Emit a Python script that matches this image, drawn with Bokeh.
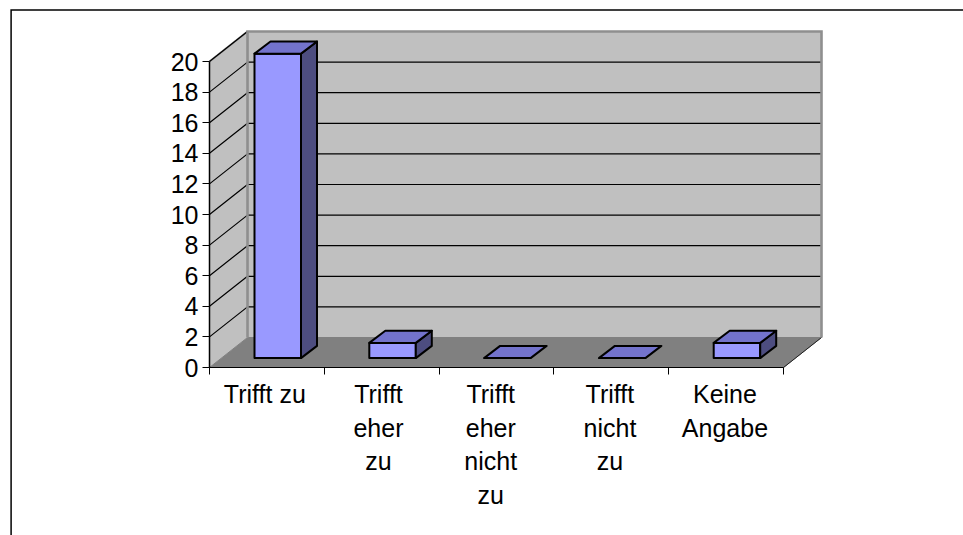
from bokeh.plotting import figure
from bokeh.models import LinearAxis, FixedTicker, ColumnDataSource, Range1d
from bokeh.core.properties import value
from bokeh.embed import file_html
from bokeh.resources import INLINE

# ---- data ----
categories = ["Trifft zu", "Trifft\neher\nzu", "Trifft\neher\nnicht\nzu", "Trifft\nnicht\nzu", "Keine\nAngabe"]
values = [20, 1, 0, 0, 1]
y_ticks = [0, 2, 4, 6, 8, 10, 12, 14, 16, 18, 20]

# ---- layout (scale factors: pixels per data unit) ----
W, H = 963, 535
UX, UY = 114.8, 15.3
ORIGIN_X, ORIGIN_Y = 209, 367          # canvas position of data (0, 0)
DX, DY = 38 / UX, 30 / UY              # chart depth in data units
BAR_LEFT, BAR_W = 45 / UX, 46.5 / UX
BAR_BASE = 9.4 / UY
BAR_SCALE = 0.995                      # bars sit slightly deeper than the front plane
BDX, BDY = 16 / UX, 12.2 / UY          # bar depth
LABEL_X = [0.482, 1.472, 2.45, 3.488, 4.49]
LABEL_Y = -12.5 / UY
N = len(categories)
Y_MAX = max(y_ticks)

p = figure(width=W, height=H, output_backend="svg", toolbar_location=None,
           x_axis_type=None, y_axis_type=None, min_border=0,
           x_range=Range1d(-ORIGIN_X / UX, (W - ORIGIN_X) / UX),
           y_range=Range1d(-(H - ORIGIN_Y) / UY, ORIGIN_Y / UY))
p.outline_line_color = None
p.background_fill_color = "white"
p.grid.visible = False

# outer picture frame: left and top edges only
fx = (10.6 - ORIGIN_X) / UX
fy = (ORIGIN_Y - 9.6) / UY
p.line([fx, fx, (W - ORIGIN_X) / UX], [-(H - ORIGIN_Y) / UY, fy, fy],
       line_color="black", line_width=1.5, line_join="miter")

# walls and floor
WALL = "#C0C0C0"; EDGE = "#8F8F8F"; FLOOR = "#808080"
p.patch([DX, N + DX, N + DX, DX], [DY, DY, DY + Y_MAX, DY + Y_MAX], fill_color=WALL, line_color=None)
p.patch([0, DX, DX, 0], [0, DY, DY + Y_MAX, Y_MAX], fill_color=WALL, line_color=None)
p.patch([0, DX, N + DX, N], [0, DY, DY, 0], fill_color=FLOOR, line_color=FLOOR, line_width=1)
p.line([N, N + DX], [0, DY], line_color="#202020", line_width=1)
p.line([0, DX], [Y_MAX, DY + Y_MAX], line_color=EDGE, line_width=2)

# gridlines on back and side walls
grid = [t for t in y_ticks if t > 0]
p.multi_line([[0, DX, N + DX] for _ in grid], [[t, t + DY, t + DY] for t in grid],
             line_color="black", line_width=1.2)

# back wall edges, over the gridlines
p.line([DX, DX, N + DX, N + DX], [DY, DY + Y_MAX, DY + Y_MAX, DY],
       line_color=EDGE, line_width=2.6, line_join="miter")

# 3-D bars
FRONT, TOP, SIDE = "#9999FF", "#7373CC", "#4D4D80"
for i, v in enumerate(values):
    x0 = i + BAR_LEFT
    x1 = x0 + BAR_W
    y0 = BAR_BASE
    y1 = y0 + v * BAR_SCALE
    if v > 0:
        p.patch([x0, x1, x1, x0], [y0, y0, y1, y1], fill_color=FRONT, line_color="black", line_width=2, line_join="round")
        p.patch([x1, x1 + BDX, x1 + BDX, x1], [y0, y0 + BDY, y1 + BDY, y1], fill_color=SIDE, line_color="black", line_width=2, line_join="round")
    p.patch([x0, x1, x1 + BDX, x0 + BDX], [y1, y1, y1 + BDY, y1 + BDY], fill_color=TOP, line_color="black", line_width=2, line_join="round")

# real axes, fixed at the front edges
yax = LinearAxis(fixed_location=0, bounds=(0, Y_MAX), ticker=FixedTicker(ticks=y_ticks),
                 axis_line_color="black", axis_line_width=1.5, major_tick_line_color="black",
                 major_tick_in=0, major_tick_out=7, minor_tick_line_color=None,
                 major_label_standoff=4, major_label_text_font="Liberation Sans",
                 major_label_text_font_size="25px", major_label_text_color="black")
p.add_layout(yax, "left")
xax = LinearAxis(fixed_location=0, bounds=(0, N), ticker=FixedTicker(ticks=list(range(N + 1))),
                 axis_line_color="black", axis_line_width=1.2, major_tick_line_color="black",
                 major_tick_in=0, major_tick_out=7, minor_tick_line_color=None,
                 major_label_overrides={i: "" for i in range(N + 1)})
p.add_layout(xax, "below")

# category labels, wrapped as in the original
src = ColumnDataSource(dict(x=LABEL_X, y=[LABEL_Y] * N, text=categories))
p.text(x="x", y="y", text="text", source=src, text_align="center", text_baseline="top",
       text_font=value("Liberation Sans"), text_font_size=value("25px"), text_color="black",
       text_line_height=1.2)

open("out.html", "w").write(file_html(p, INLINE))
